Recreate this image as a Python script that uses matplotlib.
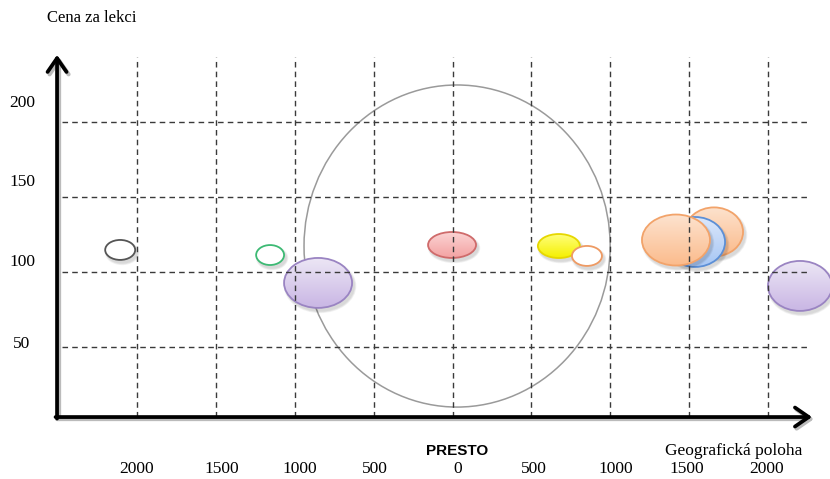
import numpy as np
import matplotlib
matplotlib.use("Agg")
import matplotlib.pyplot as plt
from matplotlib.patches import Ellipse
from matplotlib.colors import to_rgba

# --- data -------------------------------------------------------------
x_ticks = [-2000, -1500, -1000, -500, 0, 500, 1000, 1500, 2000]
x_tick_labels = ["2000", "1500", "1000", "500", "0", "500", "1000", "1500", "2000"]
y_ticks = [50, 100, 150, 200]
y_tick_labels = ["50", "100", "150", "200"]

# competitors: position (distance), price per lesson, bubble size
bubble_x = [-2106, -1156, -852, -3, 674, 852, 1657, 1537, 1416, 2202]
bubble_y = [114.7, 111.3, 92.7, 118.0, 117.3, 110.7, 126.7, 120.0, 121.3, 90.7]
bubble_w = [190, 177, 431, 304, 266, 190, 368, 380, 431, 406]
bubble_h = [13.3, 13.3, 33.3, 17.3, 16.0, 13.3, 32.7, 33.3, 34.0, 33.3]
bubble_top = ["white", "white", "#ece6f5", "#fbd3d3", "#ffff80", "white",
              "#fde3cf", "#dbe7fb", "#fde3cf", "#ece6f5"]
bubble_bottom = ["white", "white", "#c9b6e4", "#f3a2a2", "#f5f000", "white",
                 "#fbbb8c", "#a6c6f4", "#fbbb8c", "#c9b6e4"]
bubble_edge = ["#555555", "#3dba74", "#9a84c2", "#cf6b6b", "#e6d700", "#ee9a63",
               "#f2a36a", "#5c8fd6", "#f2a36a", "#9a84c2"]
bubble_filled = [False, False, True, True, True, False, True, True, True, True]

# PRESTO catchment area
area_x, area_y, area_w, area_h = 29, 117.3, 1940, 214.7

# --- layout -----------------------------------------------------------
PX_X = 6.337      # x units per pixel
PX_Y = 1 / 1.5    # y units per pixel

fig = plt.figure(figsize=(8.3, 4.79), dpi=100)
ax = fig.add_axes([0, 0, 1, 1])
ax.axis("off")

serif = "Liberation Serif"
x_left, x_right = -2506, 2278
y_bottom, y_top = 3.3, 244.7

# catchment circle
ax.add_patch(Ellipse((area_x, area_y), area_w, area_h, fill=False,
                     edgecolor="#9a9a9a", lw=1.1, zorder=2))

# bubbles with soft shadow and vertical gradient, stacked in list order
for i, (x, y, w, h, top, bot, edge, filled) in enumerate(
        zip(bubble_x, bubble_y, bubble_w, bubble_h,
            bubble_top, bubble_bottom, bubble_edge, bubble_filled)):
    z = 3 + i * 0.3
    for k in range(3):
        grow = (k + 1) * 1.5
        ax.add_patch(Ellipse((x + 2 * PX_X, y - 3 * PX_Y), w + grow * PX_X,
                             h + grow * PX_Y, facecolor="black", edgecolor="none",
                             alpha=0.05, zorder=z))
    body = Ellipse((x, y), w, h, facecolor="white", edgecolor="none", zorder=z + 0.1)
    ax.add_patch(body)
    if filled:
        c0 = np.array(to_rgba(bot))
        c1 = np.array(to_rgba(top))
        t = np.linspace(0, 1, 64)[:, None, None]
        grad = c0 * (1 - t) + c1 * t
        im = ax.imshow(grad, extent=(x - w / 2, x + w / 2, y - h / 2, y + h / 2),
                       origin="lower", aspect="auto", zorder=z + 0.15,
                       interpolation="bilinear")
        im.set_clip_path(body)
    ax.add_patch(Ellipse((x, y), w, h, fill=False, edgecolor=edge,
                         lw=1.3, zorder=z + 0.2))

# dashed grid on top of the bubbles
grid_kw = dict(color="#3a3a3a", lw=1.0, linestyles=(0, (4, 3)), zorder=7)
ax.vlines(x_ticks, y_bottom, 243.3, **grid_kw)
ax.hlines(y_ticks, -2475, 2259, **grid_kw)

# axes with arrowheads (and a faint shadow)
arrow = dict(arrowstyle="->,head_length=0.55,head_width=0.38", lw=2.7,
             color="black", mutation_scale=18, shrinkA=0, shrinkB=0)
shadow = dict(arrow, color="#bbbbbb", lw=3.0)
ax.annotate("", xy=(x_left + 2 * PX_X, y_top - 2 * PX_Y),
            xytext=(x_left + 2 * PX_X, y_bottom - 2 * PX_Y),
            arrowprops=shadow, zorder=8)
ax.annotate("", xy=(x_right + 2 * PX_X, y_bottom - 2 * PX_Y),
            xytext=(x_left, y_bottom - 2 * PX_Y), arrowprops=shadow, zorder=8)
ax.annotate("", xy=(x_left, y_top), xytext=(x_left, y_bottom - 1.5 * PX_Y),
            arrowprops=arrow, zorder=9)
ax.annotate("", xy=(x_right, y_bottom), xytext=(x_left - 1.5 * PX_X, y_bottom),
            arrowprops=arrow, zorder=9)

# tick labels
label_shift = [0, 4, 4, 1, 4, 2, 4, -2, -1]
for xv, lab, dx in zip(x_ticks, x_tick_labels, label_shift):
    ax.annotate(lab, (xv, -31.3), xytext=(dx, 0), textcoords="offset points",
                ha="center", va="center", fontsize=12.5, family=serif)
label_lift = [2, 7, 10.5, 14]
for yv, lab, lift in zip(y_ticks, y_tick_labels, label_lift):
    ax.annotate(lab, (-2728, yv), xytext=(0, lift), textcoords="offset points",
                ha="center", va="center", fontsize=12.5, family=serif)

ax.text(29, -19.3, "PRESTO", ha="center", va="center", fontsize=11,
        fontweight="bold", family="Liberation Sans")
ax.text(1784, -19.3, "Geografická poloha", ha="center", va="center",
        fontsize=12.5, family=serif)
ax.text(-2285, 269.3, "Cena za lekci", ha="center", va="center",
        fontsize=12, family=serif)

ax.set_xlim(-2867.5, 2392)
ax.set_ylim(-38, 281.3)

fig.savefig("out.png", dpi=100)
